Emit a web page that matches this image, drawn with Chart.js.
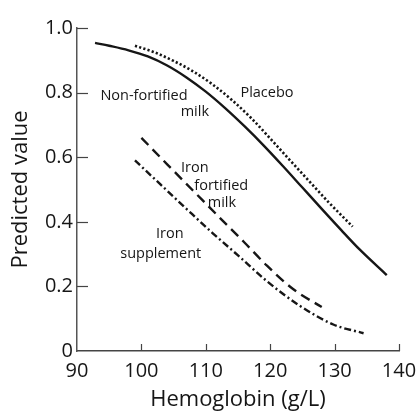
<!DOCTYPE html>
<html>
<head>
<meta charset="utf-8">
<script src="https://cdn.jsdelivr.net/npm/chart.js@4.4.1/dist/chart.umd.min.js"></script>
<style>
  html, body { margin: 0; padding: 0; background: #ffffff; }
  #wrap { width: 417px; height: 416px; position: relative; }
</style>
</head>
<body>
<div id="wrap"><canvas id="c" width="417" height="416"></canvas></div>
<script>
// ---- data ----
const hbPlacebo       = [99.0, 102.0, 105.0, 108.0, 111.0, 114.0, 117.0, 120.0, 123.0, 126.0, 129.0, 132.8];
const predPlacebo     = [0.945, 0.925, 0.898, 0.866, 0.826, 0.778, 0.722, 0.658, 0.592, 0.527, 0.462, 0.385];

const hbNonFortified   = [92.8, 95.0, 98.0, 101.0, 104.0, 107.0, 110.0, 113.0, 116.0, 119.0, 122.0, 125.0, 128.0, 131.0, 134.0, 138.1];
const predNonFortified = [0.954, 0.945, 0.931, 0.912, 0.884, 0.847, 0.803, 0.752, 0.696, 0.636, 0.572, 0.506, 0.440, 0.375, 0.312, 0.235];

const hbIronFortified   = [100.0, 104.0, 108.0, 112.0, 116.0, 119.5, 123.6, 128.0];
const predIronFortified = [0.660, 0.578, 0.497, 0.416, 0.336, 0.264, 0.191, 0.136];

const hbIronSupplement   = [99.0, 103.0, 107.0, 111.0, 115.0, 119.5, 124.6, 129.8, 134.5];
const predIronSupplement = [0.590, 0.515, 0.440, 0.366, 0.296, 0.216, 0.140, 0.082, 0.055];

const xTicks = [90, 100, 110, 120, 130, 140];
const yTicks = [0, 0.2, 0.4, 0.6, 0.8, 1.0];

// curve labels: [text, x, y]
const curveLabels = [
  ["Non-fortified", 100.4, 0.790],
  ["milk", 108.3, 0.740],
  ["Placebo", 119.5, 0.798],
  ["Iron", 108.3, 0.567],
  ["fortified", 112.4, 0.511],
  ["milk", 112.5, 0.458],
  ["Iron", 104.4, 0.362],
  ["supplement", 103.0, 0.300]
];

const xTitle = "Hemoglobin (g/L)";
const yTitle = "Predicted value";

function pts(xs, ys) { return xs.map((x, i) => ({ x: x, y: ys[i] })); }

const FONT = "'Open Sans', 'DejaVu Sans', sans-serif";
const INK = '#161616';

const innerTicks = {
  id: 'innerTicks',
  afterDatasetsDraw(chart) {
    const ctx = chart.ctx;
    const xs = chart.scales.x, ys = chart.scales.y;
    ctx.save();
    ctx.strokeStyle = '#444';
    ctx.lineWidth = 1.2;
    yTicks.forEach(v => {
      if (v === 0) return;
      const py = Math.round(ys.getPixelForValue(v)) + 0.5;
      ctx.beginPath();
      ctx.moveTo(xs.left, py);
      ctx.lineTo(xs.left + 11, py);
      ctx.stroke();
    });
    xTicks.forEach(v => {
      if (v === 90) return;
      const px = Math.round(xs.getPixelForValue(v)) + 0.5;
      ctx.beginPath();
      ctx.moveTo(px, ys.bottom);
      ctx.lineTo(px, ys.bottom - 7);
      ctx.stroke();
    });
    // curve labels
    ctx.fillStyle = INK;
    ctx.font = "14.5px " + FONT;
    ctx.textAlign = 'center';
    ctx.textBaseline = 'middle';
    curveLabels.forEach(l => {
      ctx.fillText(l[0], xs.getPixelForValue(l[1]), ys.getPixelForValue(l[2]));
    });
    ctx.restore();
  }
};

const baseDs = {
  fill: false, pointRadius: 0, borderColor: INK, borderWidth: 2.4,
  cubicInterpolationMode: 'monotone', borderCapStyle: 'butt'
};

new Chart(document.getElementById('c'), {
  type: 'line',
  data: {
    datasets: [
      Object.assign({}, baseDs, { label: 'Placebo', data: pts(hbPlacebo, predPlacebo), borderDash: [2.2, 2.2], borderWidth: 2.6 }),
      Object.assign({}, baseDs, { label: 'Non-fortified milk', data: pts(hbNonFortified, predNonFortified) }),
      Object.assign({}, baseDs, { label: 'Iron fortified milk', data: pts(hbIronFortified, predIronFortified), borderDash: [10, 6] }),
      Object.assign({}, baseDs, { label: 'Iron supplement', data: pts(hbIronSupplement, predIronSupplement), borderDash: [7, 3, 2, 3] })
    ]
  },
  options: {
    responsive: false,
    animation: false,
    devicePixelRatio: 1,
    layout: { padding: { top: 28, right: 18, left: 0, bottom: 0 } },
    plugins: { legend: { display: false }, tooltip: { enabled: false } },
    scales: {
      x: {
        type: 'linear', min: 90, max: 140,
        afterBuildTicks: s => { s.ticks = xTicks.map(v => ({ value: v })); },
        afterFit: s => { s.height = 65; s.paddingLeft = 0; s.paddingRight = 0; },
        grid: { display: false, drawTicks: false },
        border: { display: true, color: '#444', width: 1.5 },
        ticks: { color: INK, font: { family: FONT, size: 20 }, padding: 8, maxRotation: 0 },
        title: { display: true, text: xTitle, color: INK, font: { family: FONT, size: 22 }, padding: { top: 0, bottom: 3 } }
      },
      y: {
        type: 'linear', min: 0, max: 1.0,
        afterBuildTicks: s => { s.ticks = yTicks.map(v => ({ value: v })); },
        afterFit: s => { s.width = 77; s.paddingTop = 0; s.paddingBottom = 0; },
        grid: { display: false, drawTicks: false },
        border: { display: true, color: '#555', width: 1.5 },
        ticks: { color: INK, font: { family: FONT, size: 20 }, padding: 4,
                 callback: v => (v === 0 ? '0' : v.toFixed(1)) },
        title: { display: true, text: yTitle, color: INK, font: { family: FONT, size: 22 }, padding: { top: 8, bottom: 0 } }
      }
    }
  },
  plugins: [innerTicks]
});
</script>
</body>
</html>
